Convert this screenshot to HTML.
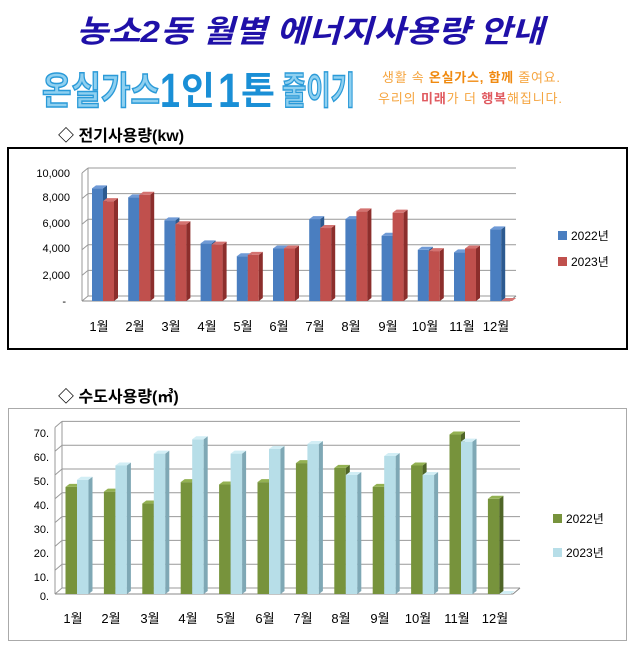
<!DOCTYPE html>
<html><head><meta charset="utf-8"><style>
body{margin:0;background:#fff;width:638px;height:651px;overflow:hidden;font-family:"Liberation Sans","Noto Sans CJK KR",sans-serif}
</style></head><body>
<svg id="s" width="638" height="651" xmlns="http://www.w3.org/2000/svg" font-family="Liberation Sans, Noto Sans CJK KR, sans-serif">
<text x="76" y="42" font-size="31" font-weight="bold" font-style="italic" fill="#1f10a8" textLength="468" lengthAdjust="spacingAndGlyphs">농소2동 월별 에너지사용량 안내</text>
<text x="42" y="104" font-size="38" font-weight="bold" fill="#8fd0f0" stroke="#2a9ad8" stroke-width="1.5" textLength="118" lengthAdjust="spacingAndGlyphs">온실가스</text>
<text x="160" y="107" font-size="48" font-weight="bold" fill="#1a8fd6" textLength="20" lengthAdjust="spacingAndGlyphs">1</text>
<text x="181" y="104" font-size="38" font-weight="bold" fill="#1a8fd6" textLength="34" lengthAdjust="spacingAndGlyphs">인</text>
<text x="218" y="107" font-size="48" font-weight="bold" fill="#1a8fd6" textLength="22" lengthAdjust="spacingAndGlyphs">1</text>
<text x="241" y="104" font-size="38" font-weight="bold" fill="#1a8fd6" textLength="34" lengthAdjust="spacingAndGlyphs">톤</text>
<text x="282" y="104" font-size="38" font-weight="bold" fill="#8fd0f0" stroke="#2a9ad8" stroke-width="1.5" textLength="73" lengthAdjust="spacingAndGlyphs">줄이기</text>
<text x="382" y="82" font-size="13" fill="#f5a540" textLength="178">생활 속 <tspan font-weight="bold" fill="#f08a10">온실가스, 함께</tspan> 줄여요.</text>
<text x="378" y="103" font-size="13" fill="#f5a540" textLength="184">우리의 <tspan font-weight="bold" fill="#e05a60">미래</tspan>가 더 <tspan font-weight="bold" fill="#e05a60">행복</tspan>해집니다.</text>
<text x="58" y="141" font-size="16" font-weight="bold" fill="#000">◇ 전기사용량(kw)</text>
<rect x="8" y="148" width="619" height="201" fill="#fff" stroke="#000" stroke-width="2"/>
<g font-size="11" fill="#000" text-anchor="end">
<text x="70" y="177">10,000</text><text x="70" y="201">8,000</text><text x="70" y="227">6,000</text><text x="70" y="252">4,000</text><text x="70" y="279">2,000</text><text x="66" y="305">-</text></g>
<g font-size="13" text-anchor="middle">
<text x="99" y="331">1월</text><text x="135" y="331">2월</text><text x="171" y="331">3월</text><text x="207" y="331">4월</text><text x="243" y="331">5월</text><text x="279" y="331">6월</text><text x="315" y="331">7월</text><text x="351" y="331">8월</text><text x="388" y="331">9월</text><text x="425" y="331">10월</text><text x="462" y="331">11월</text><text x="496" y="331">12월</text></g>
<rect x="558" y="231" width="9" height="9" fill="#4a7ec0"/><text x="571" y="240" font-size="12">2022년</text>
<rect x="558" y="257" width="9" height="9" fill="#c0504d"/><text x="571" y="266" font-size="12">2023년</text>
<text x="58" y="402" font-size="16" font-weight="bold" fill="#000">◇ 수도사용량(㎥)</text>
<rect x="8.5" y="408.5" width="618" height="232" fill="#fff" stroke="#aaa" stroke-width="1"/>
<g font-size="11" fill="#000" text-anchor="end">
<text x="49" y="437">70.</text><text x="49" y="461">60.</text><text x="49" y="485">50.</text><text x="49" y="509">40.</text><text x="49" y="533">30.</text><text x="49" y="557">20.</text><text x="49" y="581">10.</text><text x="49" y="600">0.</text></g>
<g font-size="13" text-anchor="middle">
<text x="73" y="623">1월</text><text x="111" y="623">2월</text><text x="150" y="623">3월</text><text x="188" y="623">4월</text><text x="226" y="623">5월</text><text x="265" y="623">6월</text><text x="303" y="623">7월</text><text x="341" y="623">8월</text><text x="380" y="623">9월</text><text x="418" y="623">10월</text><text x="457" y="623">11월</text><text x="495" y="623">12월</text></g>
<rect x="553" y="514" width="9" height="9" fill="#77933c"/><text x="566" y="523" font-size="12">2022년</text>
<rect x="553" y="548" width="9" height="9" fill="#b7dee8"/><text x="566" y="557" font-size="12">2023년</text>
<g id="g1"></g><g id="g2"></g>
</svg>
<script>
var NS="http://www.w3.org/2000/svg";
function el(p,t,a){var e=document.createElementNS(NS,t);for(var k in a)e.setAttribute(k,a[k]);p.appendChild(e);return e;}
function chart(g,o){
 for(var i=0;i<=o.n;i++){var y=o.y0-i*o.step;
  el(g,"line",{x1:o.ax+o.dx,y1:y-o.dy,x2:o.xr,y2:y-o.dy,stroke:"#999","stroke-width":1});
  el(g,"line",{x1:o.ax,y1:y,x2:o.ax+o.dx,y2:y-o.dy,stroke:"#999","stroke-width":1});}
 el(g,"line",{x1:o.ax+o.dx,y1:o.y0-o.dy,x2:o.ax+o.dx,y2:o.y0-o.n*o.step-o.dy,stroke:"#999"});
 el(g,"line",{x1:o.ax,y1:o.y0,x2:o.ax,y2:o.y0-o.n*o.step,stroke:"#999"});
 el(g,"line",{x1:o.ax,y1:o.y0,x2:o.xr-o.dx,y2:o.y0,stroke:"#888"});
 el(g,"line",{x1:o.xr-o.dx,y1:o.y0,x2:o.xr,y2:o.y0-o.dy,stroke:"#888"});
 for(var m=0;m<12;m++){var cx=o.c0+m*o.sp;
  [0,1].forEach(function(s){var v=o.d[s][m];var h=v/o.unit*o.step;var x=cx-o.w+s*o.w;var y=o.y0-h;var c=o.col[s];
   el(g,"rect",{x:x,y:y,width:o.w,height:h,fill:c[0]});
   el(g,"polygon",{points:[x+o.w,y,x+o.w+4,y-3,x+o.w+4,o.y0-3,x+o.w,o.y0].join(" "),fill:c[1]});
   el(g,"polygon",{points:[x,y,x+4,y-3,x+o.w+4,y-3,x+o.w,y].join(" "),fill:c[2]});
  });}
}
chart(document.getElementById("g1"),{y0:301,step:25.6,n:5,unit:2000,ax:82,dx:6,dy:5,xr:516,c0:103,sp:36.2,w:11,
 col:[["#4a7ec0","#2c5a90","#6f9ad6"],["#c0504d","#8c2e2c","#d47371"]],
 d:[[8800,8100,6300,4500,3500,4100,6400,6400,5100,4000,3800,5600],[7800,8300,6000,4400,3600,4100,5700,7000,6900,3900,4100,0.01]]});
chart(document.getElementById("g2"),{y0:594,step:23.8,n:7,unit:10,ax:55,dx:7,dy:6,xr:520,c0:77,sp:38.4,w:11.5,
 col:[["#77933c","#4f6527","#93b152"],["#b7dee8","#7fa8b5","#d2eef5"]],
 d:[[45,43,38,47,46,47,55,53,45,54,67,40],[48,54,59,65,59,61,63,50,58,50,64,0.01]]});
</script>
</body></html>
